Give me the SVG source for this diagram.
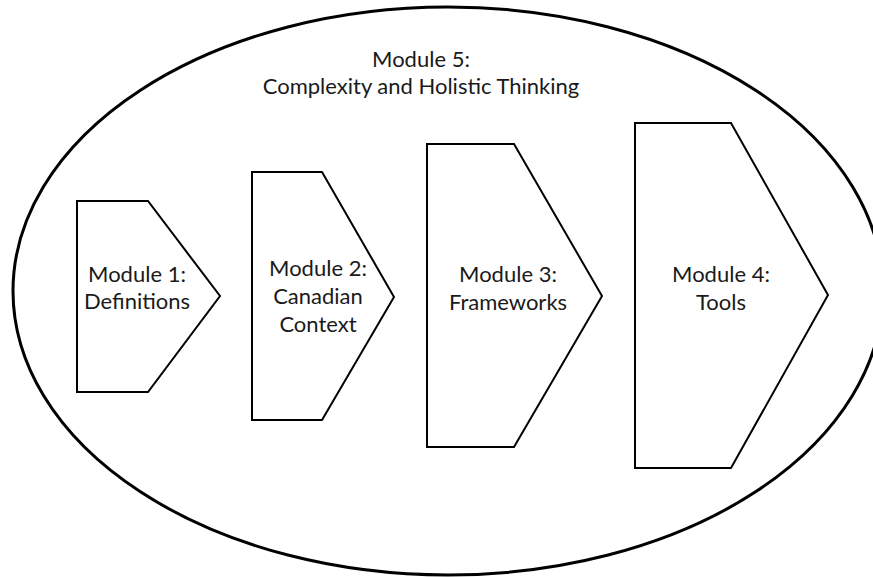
<svg xmlns="http://www.w3.org/2000/svg" width="873" height="577" viewBox="0 0 873 577">
  <style>
    .frame { fill: #ffffff; stroke: #000000; stroke-width: 3; }
    .step { fill: #ffffff; stroke: #000000; stroke-width: 2; stroke-linejoin: miter; }
    .label { font-family: Lato, "Open Sans", "Liberation Sans", sans-serif; font-size: 22px; fill: #1a1a1a; text-anchor: middle; }
  </style>
  <rect width="873" height="577" fill="#ffffff"/>

  <!-- Module 5 encloses the whole sequence -->
  <g id="module5">
    <ellipse class="frame" cx="448" cy="291" rx="435" ry="284"/>
    <text class="label" x="421" y="67">Module 5:</text>
    <text class="label" x="421" y="94">Complexity and Holistic Thinking</text>
  </g>

  <g id="module1">
    <polygon class="step" points="77,201 148,201 220,296 148,392 77,392"/>
    <text class="label" x="137" y="282">Module 1:</text>
    <text class="label" x="137" y="309">Definitions</text>
  </g>

  <g id="module2">
    <polygon class="step" points="252,172 322,172 394,297 322,420 252,420"/>
    <text class="label" x="318" y="276">Module 2:</text>
    <text class="label" x="318" y="304">Canadian</text>
    <text class="label" x="318" y="332">Context</text>
  </g>

  <g id="module3">
    <polygon class="step" points="427,144 514,144 602,296 514,447 427,447"/>
    <text class="label" x="508" y="282">Module 3:</text>
    <text class="label" x="508" y="310">Frameworks</text>
  </g>

  <g id="module4">
    <polygon class="step" points="635,123 731,123 828,295 731,468 635,468"/>
    <text class="label" x="721" y="282">Module 4:</text>
    <text class="label" x="721" y="310">Tools</text>
  </g>

  <g id="connectors"/>
</svg>
